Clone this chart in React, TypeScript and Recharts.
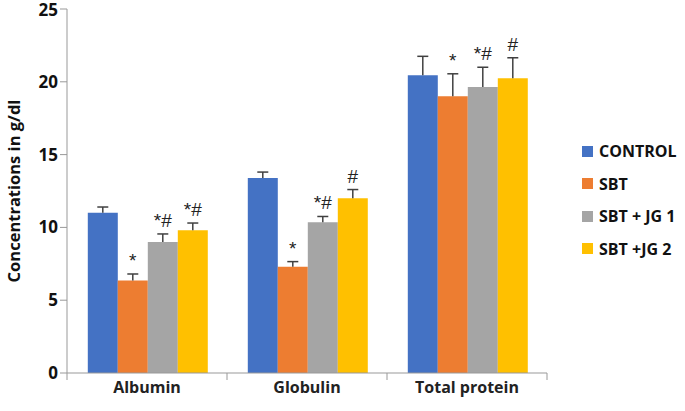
import React from 'react'
import {
    BarChart,
    Bar,
    XAxis,
    YAxis,
    LabelList,
    Legend
} from 'recharts'

const categories = ['Albumin', 'Globulin', 'Total protein']
const control = [11.0, 13.4, 20.45]
const controlErr = [0.4, 0.4, 1.3]
const sbt = [6.35, 7.3, 19.0]
const sbtErr = [0.45, 0.35, 1.55]
const jg1 = [9.0, 10.35, 19.65]
const jg1Err = [0.55, 0.4, 1.35]
const jg2 = [9.8, 12.0, 20.25]
const jg2Err = [0.5, 0.6, 1.4]
const controlSig = ['', '', '']
const sbtSig = ['*', '*', '*']
const jg1Sig = ['*#', '*#', '*#']
const jg2Sig = ['*#', '#', '#']
const yTicks = [0, 5, 10, 15, 20, 25]

const series = [
    { key: 'control', name: 'CONTROL', color: '#4472C4', values: control, errs: controlErr, sig: controlSig },
    { key: 'sbt', name: 'SBT', color: '#ED7D31', values: sbt, errs: sbtErr, sig: sbtSig },
    { key: 'jg1', name: 'SBT + JG 1', color: '#A5A5A5', values: jg1, errs: jg1Err, sig: jg1Sig },
    { key: 'jg2', name: 'SBT +JG 2', color: '#FFC000', values: jg2, errs: jg2Err, sig: jg2Sig },
]

const data = categories.map((c, i) => {
    const row: any = { name: c }
    series.forEach(s => {
        row[s.key] = s.values[i]
        row[s.key + 'Sig'] = s.sig[i]
    })
    return row
})

const FONT = '"Open Sans", "Noto Sans", sans-serif'

// upward-only error bar plus the significance mark, scaled from the bar itself
function errorAndSig(values: number[], errs: number[]) {
    return (props: any) => {
        const { x, y, width, height, value, index } = props
        const perUnit = height / values[index]
        const top = y - errs[index] * perUnit
        const cx = x + width / 2
        return (
            <g>
                <line x1={cx} x2={cx} y1={y} y2={top} stroke="#404040" strokeWidth={1.5} />
                <line x1={cx - 5.5} x2={cx + 5.5} y1={top} y2={top} stroke="#404040" strokeWidth={1.5} />
                {value &&
                    <text
                    x={cx}
                    y={top - 7}
                    textAnchor="middle"
                    fontSize={19}
                    fontFamily='"Liberation Sans", sans-serif'
                    fill="#222"
                    >
                        {value}
                    </text>}
            </g>
        )
    }
}

function CategoryTick(props: any) {
    const { x, y, payload, width, visibleTicksCount, index } = props
    const band = width / visibleTicksCount
    return (
        <g>
            <line x1={x - band / 2} x2={x - band / 2} y1={y - 8} y2={y - 1} stroke="#999" />
            {index === visibleTicksCount - 1 &&
                <line x1={x + band / 2} x2={x + band / 2} y1={y - 8} y2={y - 1} stroke="#999" />}
            <text x={x} y={y + 12} textAnchor="middle" fontSize={16} fontWeight="bold" fontFamily={FONT} fill="#222">
                {payload.value}
            </text>
        </g>
    )
}

function renderLegend() {
    return (
        <div style={{ fontFamily: FONT, fontWeight: 'bold', fontSize: 16, color: '#111' }}>
            {series.map(s => (
                <div key={s.key} style={{ display: 'flex', alignItems: 'center', height: 32.5 }}>
                    <span style={{ width: 11, height: 11, background: s.color, marginRight: 6, display: 'inline-block' }} />
                    <span>{s.name}</span>
                </div>
            ))}
        </div>
    )
}

export default function App() {
    return (
        <div style={{ position: 'absolute', left: 0, top: 0, width: 685, height: 411, background: '#fff' }}>
            <BarChart
            width={685}
            height={411}
            data={data}
            margin={{ top: 9, right: 138, bottom: 8, left: 0 }}
            barCategoryGap="13%"
            barGap={0}
            >
                <XAxis
                dataKey="name"
                height={30}
                axisLine={{ stroke: '#999' }}
                tickLine={false}
                tick={<CategoryTick />}
                interval={0}
                />
                <YAxis
                width={67}
                domain={[0, 25]}
                ticks={yTicks}
                axisLine={{ stroke: '#999' }}
                tickLine={{ stroke: '#999' }}
                tickSize={7}
                tick={{ fontSize: 17, fontWeight: 'bold', fontFamily: FONT, fill: '#111' }}
                label={{
                    value: 'Concentrations in g/dl',
                    angle: -90,
                    position: 'insideLeft',
                    offset: 14,
                    style: { textAnchor: 'middle', fontSize: 16.5, fontWeight: 'bold', fontFamily: FONT, fill: '#111' }
                }}
                />
                <Legend
                layout="vertical"
                align="center"
                verticalAlign="middle"
                content={renderLegend}
                wrapperStyle={{ left: 582, top: 135, width: 110 }}
                />
                {series.map(s => (
                    <Bar
                    key={s.key}
                    dataKey={s.key}
                    name={s.name}
                    fill={s.color}
                    isAnimationActive={false}
                    >
                        <LabelList dataKey={s.key + 'Sig'} content={errorAndSig(s.values, s.errs)} />
                    </Bar>
                ))}
            </BarChart>
        </div>
    )
}
